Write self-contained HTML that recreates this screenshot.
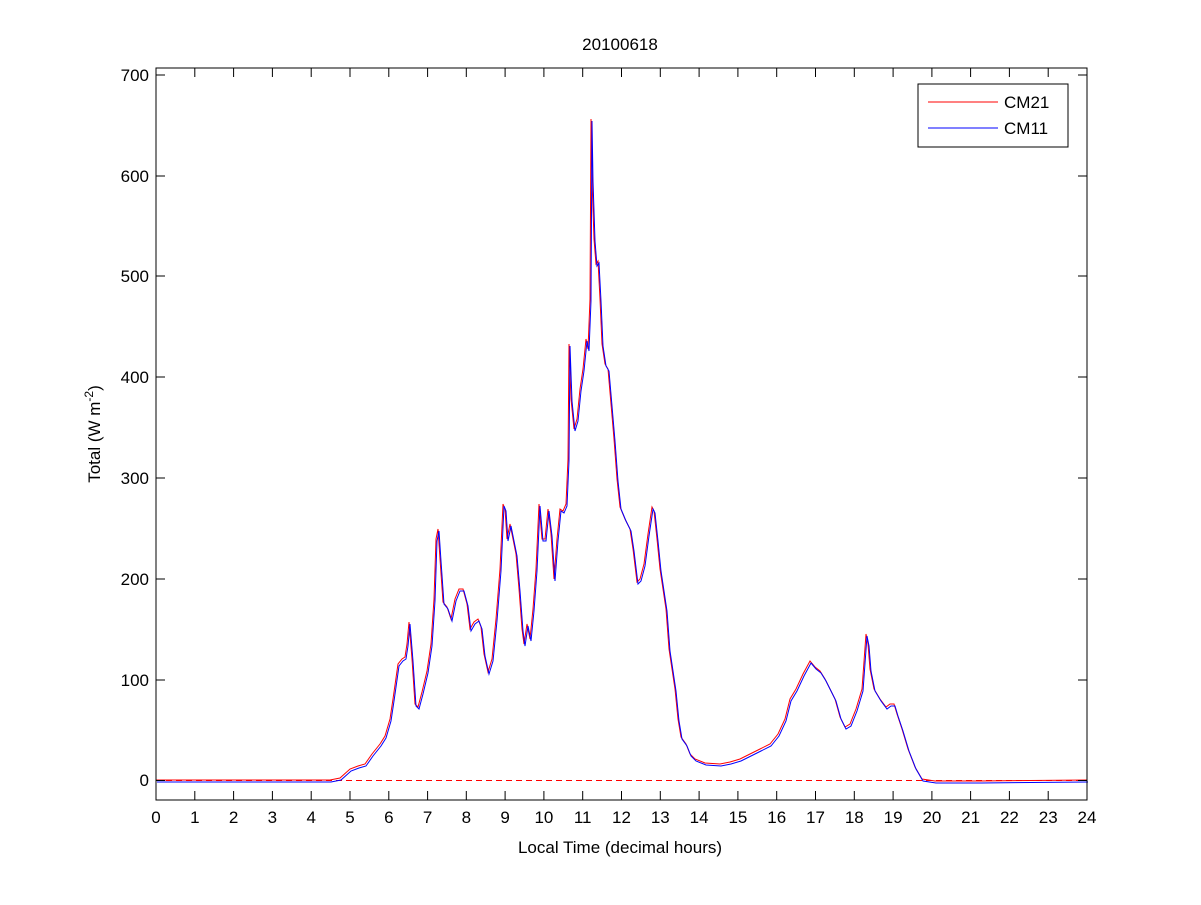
<!DOCTYPE html>
<html><head><style>body{margin:0;background:#fff}svg text{font-family:"Liberation Sans",sans-serif}</style></head>
<body>
<svg width="1201" height="900" xmlns="http://www.w3.org/2000/svg">
<rect width="1201" height="900" fill="#fff"/>
<defs><polyline id="d" fill="none" points="156,781 330,781 340,779 350,770 358,767 365,765 372,755 380,745 385,737 390,720 393,700 398,665 402,660 405,658 407,645 409,623 412,660 415,705 418,708 422,693 427,672 431,645 434,600 436,540 438,530 440,560 443,603 447,608 451,620 455,600 459,590 463,590 467,605 470,630 474,623 478,620 481,628 484,655 488,673 492,660 496,620 500,570 503,505 505,510 507,540 510,525 513,540 516,555 519,590 522,630 524,645 527,625 530,640 533,610 536,570 539,505 542,540 545,540 548,510 551,535 554,580 557,540 560,510 563,512 566,505 568,460 569,345 571,400 574,430 577,420 580,390 583,370 586,340 588,350 590,300 591,120 592,180 594,240 596,265 598,262 600,300 602,345 605,365 608,370 611,405 614,440 617,480 620,508 625,520 630,530 633,550 637,583 640,580 644,565 648,535 652,508 654,512 657,540 660,570 663,590 666,610 669,650 672,670 675,690 678,720 681,738 686,745 690,755 695,760 705,764 720,765 730,763 740,760 750,755 760,750 770,745 778,735 785,720 790,700 796,690 803,675 810,662 815,668 820,672 825,680 830,690 835,700 840,718 845,728 850,725 856,710 862,690 866,635 868,645 870,670 874,690 880,700 886,708 890,705 894,705 897,715 902,730 908,750 915,768 922,780 935,782 980,782 1087,781"/></defs>
<line x1="156" y1="780.5" x2="1087" y2="780.5" stroke="#f00" stroke-dasharray="6,4"/>
<use href="#d" stroke="#f00" transform="translate(0,-1)"/>
<use href="#d" stroke="#00f" transform="translate(1,1)"/>
<rect x="156" y="68" width="931" height="732" fill="none" stroke="#000"/>
<g stroke="#000">
<path d="M156,780.5h9M156,680h9M156,579h9M156,478h9M156,377h9M156,276h9M156,176h9M156,75h9M1087,780.5h-9M1087,680h-9M1087,579h-9M1087,478h-9M1087,377h-9M1087,276h-9M1087,176h-9M1087,75h-9"/>
<path id="xt" d="M156,800v-9M194.8,800v-9M233.6,800v-9M272.4,800v-9M311.2,800v-9M350,800v-9M388.8,800v-9M427.6,800v-9M466.3,800v-9M505.1,800v-9M543.9,800v-9M582.7,800v-9M621.5,800v-9M660.3,800v-9M699.1,800v-9M737.9,800v-9M776.7,800v-9M815.5,800v-9M854.3,800v-9M893.1,800v-9M931.9,800v-9M970.6,800v-9M1009.4,800v-9M1048.2,800v-9M1087,800v-9"/>
<path d="M156,68v9M194.8,68v9M233.6,68v9M272.4,68v9M311.2,68v9M350,68v9M388.8,68v9M427.6,68v9M466.3,68v9M505.1,68v9M543.9,68v9M582.7,68v9M621.5,68v9M660.3,68v9M699.1,68v9M737.9,68v9M776.7,68v9M815.5,68v9M854.3,68v9M893.1,68v9M931.9,68v9M970.6,68v9M1009.4,68v9M1048.2,68v9M1087,68v9"/>
</g>
<g font-size="17" text-anchor="end">
<text x="149" y="786">0</text><text x="149" y="686">100</text><text x="149" y="585">200</text><text x="149" y="484">300</text><text x="149" y="383">400</text><text x="149" y="282">500</text><text x="149" y="182">600</text><text x="149" y="81">700</text>
</g>
<g font-size="17" text-anchor="middle">
<text x="156" y="823">0</text><text x="194.8" y="823">1</text><text x="233.6" y="823">2</text><text x="272.4" y="823">3</text><text x="311.2" y="823">4</text><text x="350" y="823">5</text><text x="388.8" y="823">6</text><text x="427.6" y="823">7</text><text x="466.3" y="823">8</text><text x="505.1" y="823">9</text><text x="543.9" y="823">10</text><text x="582.7" y="823">11</text><text x="621.5" y="823">12</text><text x="660.3" y="823">13</text><text x="699.1" y="823">14</text><text x="737.9" y="823">15</text><text x="776.7" y="823">16</text><text x="815.5" y="823">17</text><text x="854.3" y="823">18</text><text x="893.1" y="823">19</text><text x="931.9" y="823">20</text><text x="970.6" y="823">21</text><text x="1009.4" y="823">22</text><text x="1048.2" y="823">23</text><text x="1087" y="823">24</text>
<text x="620" y="853">Local Time (decimal hours)</text>
<text x="620" y="50">20100618</text>
<text transform="translate(100,434) rotate(-90)">Total (W m<tspan dy="-7" font-size="12">-2</tspan><tspan dy="7">)</tspan></text>
</g>
<rect x="918" y="84" width="150" height="63" fill="#fff" stroke="#000"/>
<line x1="928" y1="102" x2="998" y2="102" stroke="#f00"/>
<line x1="928" y1="128" x2="998" y2="128" stroke="#00f"/>
<text x="1004" y="108" font-size="17">CM21</text>
<text x="1004" y="134" font-size="17">CM11</text>
</svg>
</body></html>
